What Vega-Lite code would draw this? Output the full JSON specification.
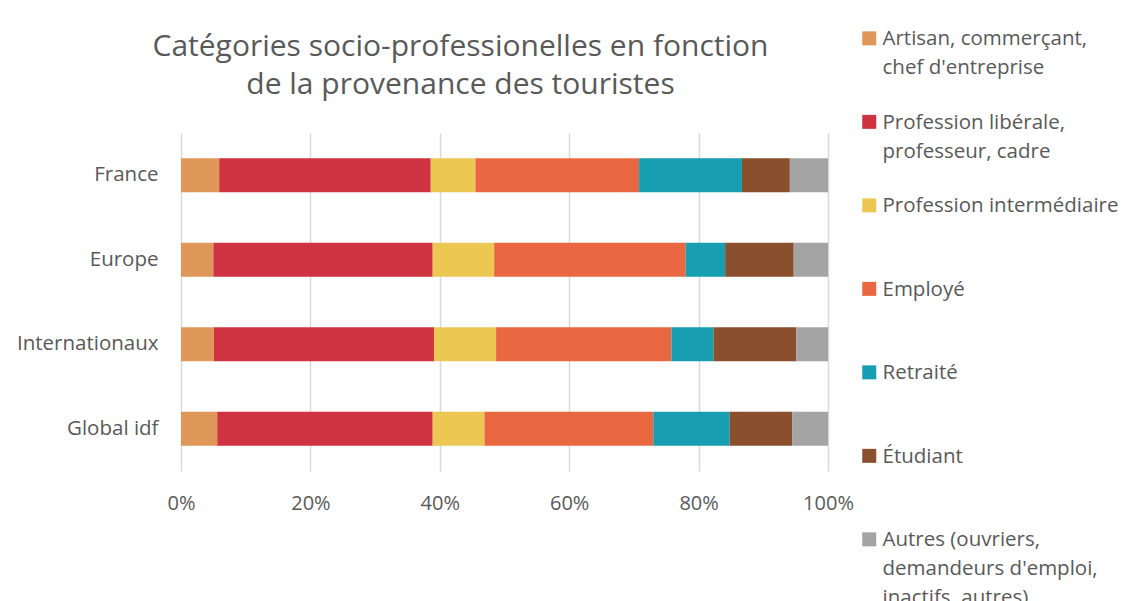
{
  "$schema": "https://vega.github.io/schema/vega-lite/v6.json",
  "autosize": {"type": "none"},
  "padding": {"left": 181, "top": 133, "right": 304, "bottom": 130},
  "width": 647,
  "height": 338,
  "background": "white",
  "title": {
    "text": ["Catégories socio-professionelles en fonction", "de la provenance des touristes"],
    "font": "Open Sans",
    "fontSize": 30,
    "fontWeight": "normal",
    "color": "#595959",
    "lineHeight": 38,
    "anchor": "middle",
    "frame": "group",
    "dx": -44,
    "offset": -81
  },
  "data": {
    "values": [
      {"provenance": "France", "categorie": "Artisan, commerçant, chef d'entreprise", "ordre": 1, "part": 5.9},
      {"provenance": "France", "categorie": "Profession libérale, professeur, cadre", "ordre": 2, "part": 32.7},
      {"provenance": "France", "categorie": "Profession intermédiaire", "ordre": 3, "part": 6.9},
      {"provenance": "France", "categorie": "Employé", "ordre": 4, "part": 25.3},
      {"provenance": "France", "categorie": "Retraité", "ordre": 5, "part": 15.9},
      {"provenance": "France", "categorie": "Étudiant", "ordre": 6, "part": 7.4},
      {"provenance": "France", "categorie": "Autres (ouvriers, demandeurs d'emploi, inactifs, autres)", "ordre": 7, "part": 5.9},
      {"provenance": "Europe", "categorie": "Artisan, commerçant, chef d'entreprise", "ordre": 1, "part": 5.0},
      {"provenance": "Europe", "categorie": "Profession libérale, professeur, cadre", "ordre": 2, "part": 33.9},
      {"provenance": "Europe", "categorie": "Profession intermédiaire", "ordre": 3, "part": 9.5},
      {"provenance": "Europe", "categorie": "Employé", "ordre": 4, "part": 29.6},
      {"provenance": "Europe", "categorie": "Retraité", "ordre": 5, "part": 6.1},
      {"provenance": "Europe", "categorie": "Étudiant", "ordre": 6, "part": 10.6},
      {"provenance": "Europe", "categorie": "Autres (ouvriers, demandeurs d'emploi, inactifs, autres)", "ordre": 7, "part": 5.3},
      {"provenance": "Internationaux", "categorie": "Artisan, commerçant, chef d'entreprise", "ordre": 1, "part": 5.1},
      {"provenance": "Internationaux", "categorie": "Profession libérale, professeur, cadre", "ordre": 2, "part": 34.0},
      {"provenance": "Internationaux", "categorie": "Profession intermédiaire", "ordre": 3, "part": 9.6},
      {"provenance": "Internationaux", "categorie": "Employé", "ordre": 4, "part": 27.1},
      {"provenance": "Internationaux", "categorie": "Retraité", "ordre": 5, "part": 6.5},
      {"provenance": "Internationaux", "categorie": "Étudiant", "ordre": 6, "part": 12.8},
      {"provenance": "Internationaux", "categorie": "Autres (ouvriers, demandeurs d'emploi, inactifs, autres)", "ordre": 7, "part": 4.9},
      {"provenance": "Global idf", "categorie": "Artisan, commerçant, chef d'entreprise", "ordre": 1, "part": 5.6},
      {"provenance": "Global idf", "categorie": "Profession libérale, professeur, cadre", "ordre": 2, "part": 33.3},
      {"provenance": "Global idf", "categorie": "Profession intermédiaire", "ordre": 3, "part": 8.0},
      {"provenance": "Global idf", "categorie": "Employé", "ordre": 4, "part": 26.1},
      {"provenance": "Global idf", "categorie": "Retraité", "ordre": 5, "part": 11.8},
      {"provenance": "Global idf", "categorie": "Étudiant", "ordre": 6, "part": 9.7},
      {"provenance": "Global idf", "categorie": "Autres (ouvriers, demandeurs d'emploi, inactifs, autres)", "ordre": 7, "part": 5.5}
    ]
  },
  "mark": {"type": "bar"},
  "encoding": {
    "y": {
      "field": "provenance",
      "type": "nominal",
      "sort": ["France", "Europe", "Internationaux", "Global idf"],
      "scale": {"paddingInner": 0.6, "paddingOuter": 0.3},
      "axis": {
        "title": null,
        "domain": false,
        "ticks": false,
        "labelPadding": 23,
        "labelFont": "Open Sans",
        "labelFontSize": 20.5,
        "labelColor": "#595959"
      }
    },
    "x": {
      "field": "part",
      "type": "quantitative",
      "stack": "normalize",
      "scale": {"domain": [0, 1], "nice": false},
      "axis": {
        "title": null,
        "values": [0, 0.2, 0.4, 0.6, 0.8, 1],
        "format": ".0%",
        "domain": false,
        "ticks": false,
        "grid": true,
        "gridColor": "#D9D9D9",
        "gridWidth": 1.5,
        "labelPadding": 22,
        "labelFont": "Open Sans",
        "labelFontSize": 20,
        "labelColor": "#595959",
        "labelFlush": false
      }
    },
    "order": {"field": "ordre", "type": "quantitative", "sort": "ascending"},
    "color": {
      "field": "categorie",
      "type": "nominal",
      "sort": [
        "Artisan, commerçant, chef d'entreprise",
        "Profession libérale, professeur, cadre",
        "Profession intermédiaire",
        "Employé",
        "Retraité",
        "Étudiant",
        "Autres (ouvriers, demandeurs d'emploi, inactifs, autres)"
      ],
      "scale": {
        "domain": [
          "Artisan, commerçant, chef d'entreprise",
          "Profession libérale, professeur, cadre",
          "Profession intermédiaire",
          "Employé",
          "Retraité",
          "Étudiant",
          "Autres (ouvriers, demandeurs d'emploi, inactifs, autres)"
        ],
        "range": ["#E0975A", "#CF3240", "#ECC752", "#E96741", "#179EB0", "#8A4F2C", "#A5A4A4"]
      },
      "legend": {
        "title": null,
        "orient": "none",
        "legendX": 678,
        "legendY": -114,
        "symbolType": "M-1,0.3H1V2.3H-1Z",
        "symbolSize": 196,
        "symbolStrokeWidth": 0,
        "symbolOpacity": 1,
        "labelOffset": 3,
        "labelBaseline": "top",
        "labelFont": "Open Sans",
        "labelFontSize": 20.5,
        "labelColor": "#595959",
        "labelLimit": 400,
        "rowPadding": 23.5,
        "labelExpr": "datum.label == \"Artisan, commerçant, chef d'entreprise\" ? [\"Artisan, commerçant,\", \"chef d'entreprise\"] : datum.label == \"Profession libérale, professeur, cadre\" ? [\"Profession libérale,\", \"professeur, cadre\"] : datum.label == \"Autres (ouvriers, demandeurs d'emploi, inactifs, autres)\" ? [\"Autres (ouvriers,\", \"demandeurs d'emploi,\", \"inactifs, autres)\"] : [datum.label, \"\"]"
      }
    }
  },
  "config": {
    "view": {"stroke": null},
    "style": {"guide-label": {"lineHeight": 29}}
  }
}
